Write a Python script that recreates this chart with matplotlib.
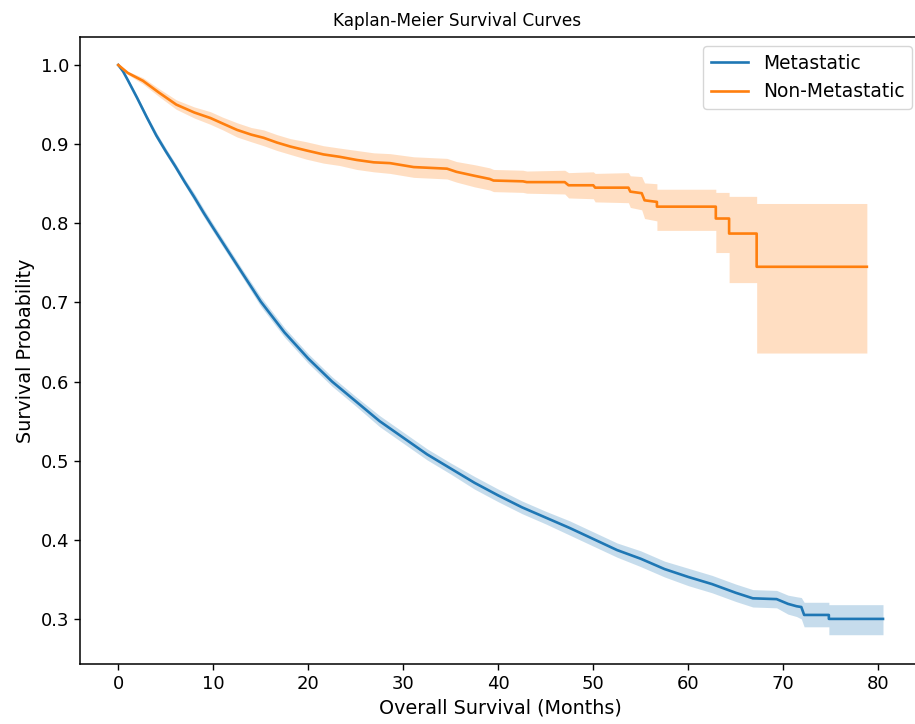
import matplotlib
matplotlib.use("Agg")
import matplotlib.pyplot as plt

# ---- Metastatic (blue) ----
met_t = [0, 0.5, 1, 2, 3, 4, 5, 6, 7, 8, 9, 10,
         11.5, 13, 15, 17.5, 20, 22.5, 25, 27.5, 30, 32.5, 35, 37.5,
         40, 42.5, 45, 47.5, 50, 52.5, 55, 57.5, 60, 62.5, 65, 66.8,
         69.3, 70.5, 71.4, 71.9, 72.2, 74.8, 74.8, 80.5]
met_s = [1.000, 0.992, 0.981, 0.958, 0.934, 0.911, 0.891, 0.872, 0.852, 0.833, 0.813, 0.794,
         0.766, 0.738, 0.701, 0.662, 0.629, 0.600, 0.575, 0.550, 0.529, 0.508, 0.490, 0.472,
         0.456, 0.441, 0.428, 0.415, 0.401, 0.387, 0.376, 0.363, 0.353, 0.344, 0.333, 0.326,
         0.325, 0.319, 0.316, 0.315, 0.305, 0.305, 0.300, 0.300]
met_lo = [1.000, 0.991, 0.979, 0.955, 0.931, 0.907, 0.887, 0.868, 0.848, 0.828, 0.808, 0.789,
          0.761, 0.733, 0.695, 0.656, 0.623, 0.594, 0.569, 0.543, 0.522, 0.501, 0.483, 0.464,
          0.448, 0.433, 0.420, 0.406, 0.392, 0.378, 0.366, 0.353, 0.342, 0.333, 0.322, 0.315,
          0.314, 0.306, 0.303, 0.300, 0.290, 0.290, 0.280, 0.280]
met_hi = [1.000, 0.993, 0.983, 0.961, 0.937, 0.915, 0.895, 0.876, 0.856, 0.838, 0.818, 0.799,
          0.771, 0.743, 0.707, 0.668, 0.635, 0.606, 0.581, 0.557, 0.536, 0.515, 0.497, 0.480,
          0.464, 0.449, 0.436, 0.424, 0.410, 0.396, 0.386, 0.373, 0.364, 0.355, 0.344, 0.337,
          0.336, 0.330, 0.328, 0.327, 0.321, 0.321, 0.318, 0.318]

# ---- Non-Metastatic (orange) ----
non_t = [0, 1.0, 2.6, 4.3, 6.1, 8.0, 9.7, 11.0, 12.5, 14.0, 15.3, 16.7, 18.1, 19.8,
         21.6, 23.3, 25.1, 26.9, 28.6, 31.1, 34.6, 35.6, 37.5, 39.1, 39.5, 42.6, 43.0,
         47.0, 47.4, 50.0, 50.2, 53.7, 53.9, 55.1, 55.4, 56.7, 56.7, 62.9, 62.9, 64.3,
         64.3, 67.2, 67.2, 78.8]
non_s = [1.000, 0.990, 0.980, 0.965, 0.950, 0.940, 0.933, 0.926, 0.918, 0.912, 0.908,
         0.902, 0.897, 0.892, 0.887, 0.884, 0.880, 0.877, 0.876, 0.871, 0.869, 0.865,
         0.860, 0.856, 0.854, 0.853, 0.852, 0.852, 0.848, 0.848, 0.845, 0.845, 0.840,
         0.838, 0.829, 0.827, 0.821, 0.821, 0.806, 0.806, 0.787, 0.787, 0.745, 0.745]
non_lo = [1.000, 0.988, 0.976, 0.960, 0.944, 0.933, 0.925, 0.918, 0.909, 0.903, 0.898,
          0.892, 0.887, 0.881, 0.876, 0.873, 0.868, 0.865, 0.863, 0.858, 0.856, 0.852,
          0.846, 0.842, 0.840, 0.839, 0.838, 0.837, 0.832, 0.831, 0.827, 0.826, 0.820,
          0.817, 0.806, 0.803, 0.791, 0.791, 0.763, 0.763, 0.725, 0.725, 0.636, 0.636]
non_hi = [1.000, 0.992, 0.984, 0.970, 0.956, 0.947, 0.941, 0.934, 0.927, 0.921, 0.918,
          0.912, 0.907, 0.903, 0.898, 0.895, 0.892, 0.889, 0.888, 0.884, 0.882, 0.878,
          0.874, 0.870, 0.868, 0.867, 0.866, 0.867, 0.864, 0.865, 0.863, 0.864, 0.860,
          0.859, 0.851, 0.850, 0.843, 0.843, 0.839, 0.839, 0.834, 0.834, 0.825, 0.825]

labels = ["Metastatic", "Non-Metastatic"]
x_ticks = [0, 10, 20, 30, 40, 50, 60, 70, 80]
y_ticks = [0.3, 0.4, 0.5, 0.6, 0.7, 0.8, 0.9, 1.0]

FS = 13
plt.rcParams.update({
    "font.family": ["DejaVu Sans"],
    "xtick.labelsize": FS, "ytick.labelsize": FS,
    "xtick.major.size": 4.5, "ytick.major.size": 4.5,
    "xtick.major.width": 1.0, "ytick.major.width": 1.0,
    "axes.linewidth": 1.1,
})

fig = plt.figure(figsize=(9.15, 7.24), dpi=100)
ax = fig.add_axes([80 / 915, 60 / 724, 841 / 915, 627 / 724])

c_blue, c_orange = "#1f77b4", "#ff7f0e"
ax.fill_between(met_t, met_lo, met_hi, color=c_blue, alpha=0.25, linewidth=0)
ax.plot(met_t, met_s, color=c_blue, lw=1.9, label=labels[0])
ax.fill_between(non_t, non_lo, non_hi, color=c_orange, alpha=0.25, linewidth=0)
ax.plot(non_t, non_s, color=c_orange, lw=1.9, label=labels[1])

ax.set_xlim(-4.03, 84.5)
ax.set_ylim(0.243, 1.0354)
ax.set_xticks(x_ticks)
ax.set_yticks(y_ticks)
ax.set_yticklabels([f"{v:.1f}" for v in y_ticks])

ax.set_title("Kaplan-Meier Survival Curves", fontsize=12.2, pad=8, x=0.448)
ax.set_xlabel("Overall Survival (Months)", fontsize=13.8)
ax.set_ylabel("Survival Probability", fontsize=13.8)
ax.legend(loc="upper right", fontsize=13.4)

fig.savefig("out.png", dpi=100)
